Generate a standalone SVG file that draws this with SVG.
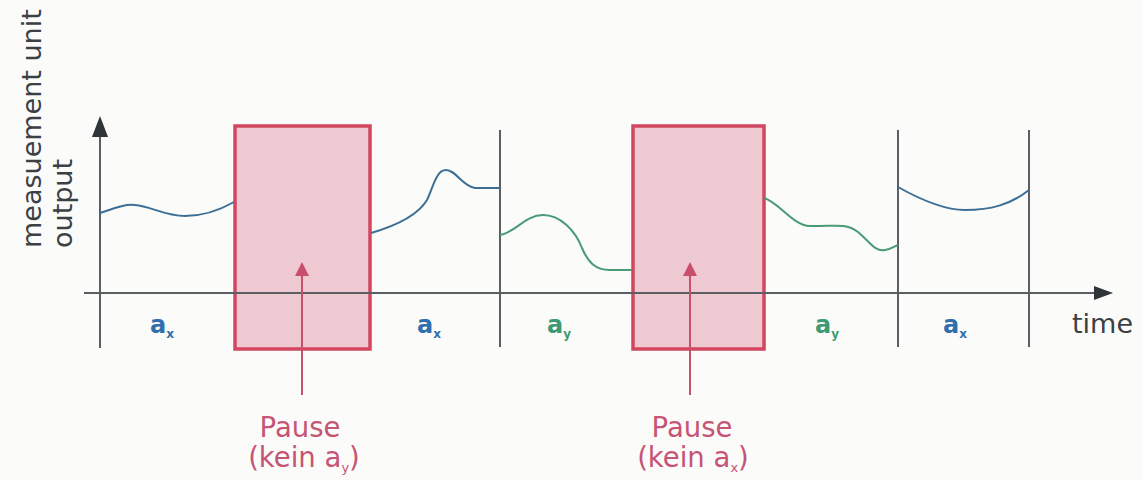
<svg xmlns="http://www.w3.org/2000/svg" width="1143" height="480" viewBox="0 0 1143 480">
<style>
.ax{stroke:#5a5f63;stroke-width:2;fill:none}
.ah{fill:#2f3437}
.pause{fill:#efc9d2;stroke:#d2475f;stroke-width:3.5}
.ptr{stroke:#c9506b;stroke-width:2;fill:none}
.ph{fill:#c9506b}
.cb{stroke:#3d6f96;stroke-width:2;fill:none}
.cg{stroke:#4a9a74;stroke-width:2;fill:none}
.lbl{font-family:"DejaVu Sans",sans-serif;font-weight:bold;font-size:24px}
.bl{fill:#2f6fae}
.gr{fill:#3d9a74}
.sub{font-size:12px}
.txt{font-family:"DejaVu Sans",sans-serif;font-size:27px;fill:#3b4045}
.yl{font-family:"DejaVu Sans",sans-serif;font-size:27px;fill:#3b4045}
.pt{font-family:"DejaVu Sans",sans-serif;font-size:27.5px;fill:#c65474;text-anchor:middle}
</style>
<rect width="1143" height="480" fill="#fbfbfa"/>
<g id="pause1">
<rect class="pause" x="235" y="126" width="135" height="223"/>
</g>
<g id="pause2">
<rect class="pause" x="633" y="126" width="131" height="223"/>
</g>
<g id="axes">
<line class="ax" x1="100" y1="132" x2="100" y2="348"/>
<polygon class="ah" points="100,116 92,137 108,137"/>
<line class="ax" x1="84" y1="293" x2="1098" y2="293"/>
<polygon class="ah" points="1113,293 1094,286 1094,300"/>
<line class="ax" x1="500" y1="130" x2="500" y2="347"/>
<line class="ax" x1="898" y1="130" x2="898" y2="347"/>
<line class="ax" x1="1029" y1="130" x2="1029" y2="347"/>
</g>
<g id="connectors">
<line class="ptr" x1="302" y1="395" x2="302" y2="274"/>
<polygon class="ph" points="302,262 295,276 309,276"/>
<line class="ptr" x1="690" y1="395" x2="690" y2="274"/>
<polygon class="ph" points="690,262 683,276 697,276"/>
</g>
<g id="signals">
<path class="cb" d="M100,213 C115,208 125,204 135,205 C150,206 165,216 185,216 C205,216 220,210 234,202"/>
<path class="cb" d="M371,233 C395,226 418,215 427,200 C433,188 436,170 446,170 C456,170 462,186 475,188 L500,188"/>
<path class="cg" d="M500,235 C515,233 525,215 543,215 C560,215 575,230 582,248 C588,262 595,270 610,270 L632,270"/>
<path class="cg" d="M764,198 C780,203 792,225 810,226 C830,227 845,222 858,232 C870,242 875,252 885,250 C892,249 895,246 898,245"/>
<path class="cb" d="M898,187 C930,205 950,210 965,210 C990,210 1010,205 1029,190"/>
</g>
<g id="labels">
<text class="lbl bl" x="150" y="333">a<tspan class="sub" dy="5">x</tspan></text>
<text class="lbl bl" x="417" y="333">a<tspan class="sub" dy="5">x</tspan></text>
<text class="lbl gr" x="547" y="333">a<tspan class="sub" dy="5">y</tspan></text>
<text class="lbl gr" x="815" y="333">a<tspan class="sub" dy="5">y</tspan></text>
<text class="lbl bl" x="943" y="333">a<tspan class="sub" dy="5">x</tspan></text>
<text class="txt" x="1072" y="333">time</text>
<text class="yl" transform="translate(41,248) rotate(-90)">measuement unit</text>
<text class="yl" transform="translate(72,248) rotate(-90)">output</text>
</g>
<g id="pause-labels">
<text class="pt" x="300" y="437">Pause</text>
<text class="pt" x="304" y="467">(kein a<tspan font-size="13" dy="5">y</tspan><tspan dy="-5">)</tspan></text>
<text class="pt" x="692" y="437">Pause</text>
<text class="pt" x="693" y="467">(kein a<tspan font-size="13" dy="5">x</tspan><tspan dy="-5">)</tspan></text>
</g>
</svg>
